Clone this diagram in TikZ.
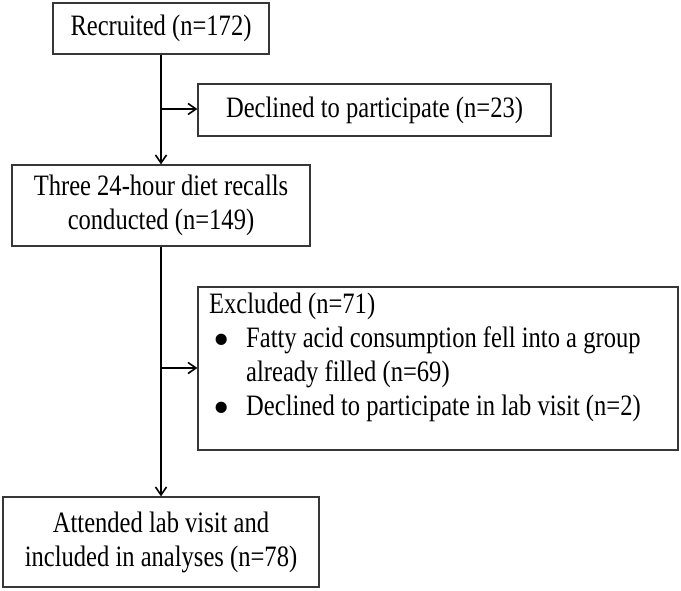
\documentclass[tikz,border=0pt]{standalone}
\usepackage{fontspec}
\setmainfont{Liberation Serif}[FakeStretch=0.83]
\usepackage{graphicx}
\usepackage{xcolor}
\usepackage{tikz}
\usetikzlibrary{arrows.meta}
\definecolor{boxgray}{RGB}{55,55,55}

\newcommand{\bigdot}{\hspace*{4pt}\makebox[33pt][l]{\raisebox{-8pt}[0pt][0pt]{\scalebox{1.9}[1.6]{\textbullet}}}}

\tikzset{
	box/.style={draw=boxgray, line width=1.2pt, inner sep=0pt, align=center},
	flow/.style={line width=1.8pt, -{Straight Barb[length=8pt,width=11pt,line width=1.6pt]}}
}

\begin{document}
\begin{tikzpicture}[x=1pt,y=-1pt,font=\fontsize{29.6}{34}\selectfont]
	\useasboundingbox (0,0) rectangle (681,590);
	
	\node (rec) at (161,28.5) [box, minimum width=216pt, minimum height=51pt] {Recruited (n=172)};
	\node (dec) at (374.5,110) [box, minimum width=353pt, minimum height=52pt] {Declined to participate (n=23)};
	\node (three) at (161,205.5) [box, minimum width=298pt, minimum height=81pt] {Three 24-hour diet recalls\\conducted (n=149)};
	\node (excl) at (438,368.5) [box, minimum width=480pt, minimum height=163pt] {};
	\node (att) at (161,542) [box, minimum width=316pt, minimum height=90pt] {Attended lab visit and\\included in analyses (n=78)};
	
	% text of the excluded box
	\node (exclt) at (209,293) [anchor=north west, inner sep=0pt, align=left]
		{Excluded (n=71)\\
		\bigdot Fatty acid consumption fell into a group\\
		\hspace*{37pt}already filled (n=69)\\
		\bigdot Declined to participate in lab visit (n=2)};
	
	\coordinate (J1) at (161,109);
	\coordinate (J2) at (161,368);
	
	\draw[flow] (rec.south) -- (three.north);
	\draw[flow] (three.south) -- (att.north);
	\draw[flow] (J1) -- (J1 -| dec.west);
	\draw[flow] (J2) -- (J2 -| excl.west);
\end{tikzpicture}
\end{document}
